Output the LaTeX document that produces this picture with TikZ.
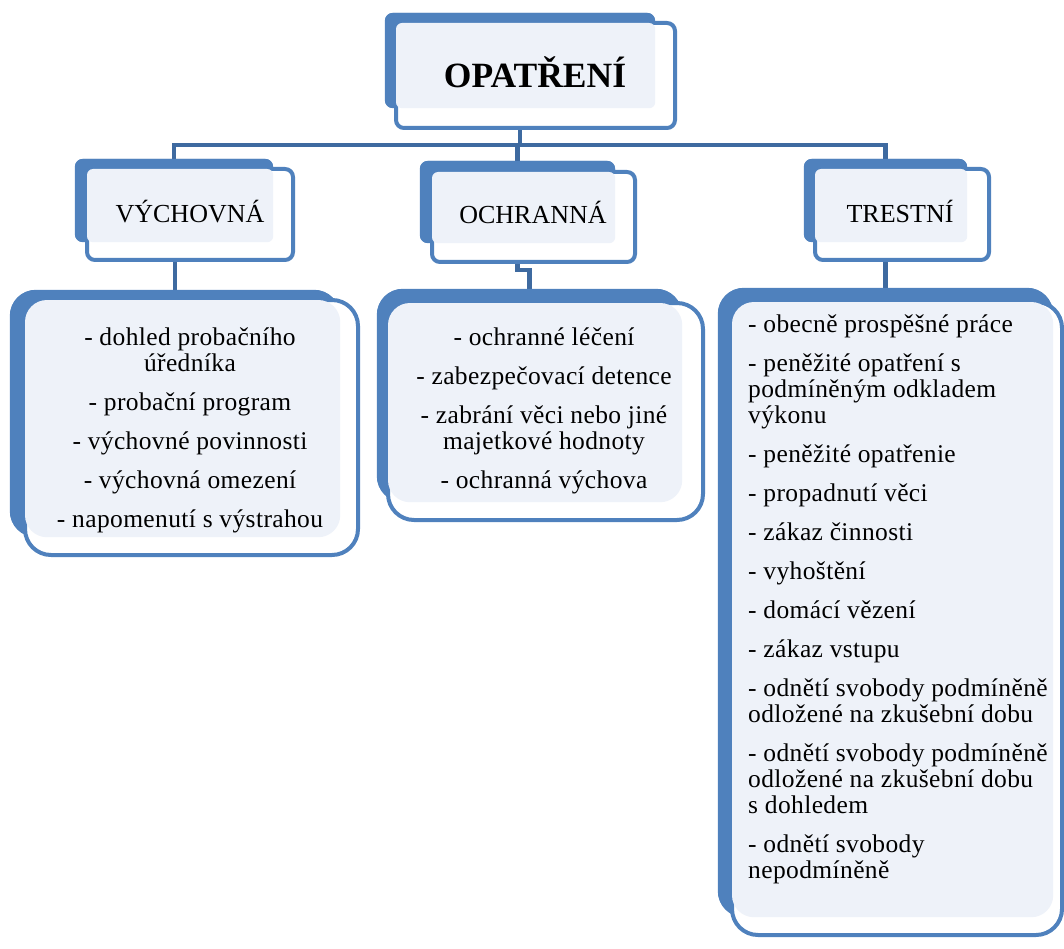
\documentclass[tikz,border=0pt]{standalone}
\usepackage{fontspec}
\setmainfont{Liberation Serif}
\newfontfamily\listfont[LetterSpace=1.5]{Liberation Serif}
\usetikzlibrary{fit}
\definecolor{obl}{RGB}{79,129,189}
\definecolor{connc}{RGB}{62,106,160}
\definecolor{lite}{RGB}{238,242,249}
\begin{document}
\begin{tikzpicture}[x=1pt,y=-1pt,
  backbox/.style={fill=obl, draw=none, rounded corners=#1, inner sep=0pt},
  backbox/.default=8pt,
  frontbox/.style={fill=white, draw=obl, line width=4pt, rounded corners=#1, inner sep=0pt},
  frontbox/.default=8pt,
  litefill/.style={fill=lite, rounded corners=#1},
  litefill/.default=6pt,
  conn/.style={draw=connc, line width=4.5pt},
  titletext/.style={font=\fontsize{35.5}{40}\selectfont\bfseries, anchor=base, inner sep=0pt},
  cattext/.style={font=\fontsize{26}{30}\selectfont, anchor=base, inner sep=0pt},
  listtext/.style={font=\listfont\fontsize{25.5}{26}\selectfont, inner sep=0pt}
]
\useasboundingbox (0,0) rectangle (1064,949);

% back boxes
\node[backbox, fit={(385,13) (655,108)}] (bt) {};
\node[backbox, fit={(75,159) (273,242)}] (b1) {};
\node[backbox, fit={(420,161) (615,243)}] (b2) {};
\node[backbox, fit={(804,159) (967,242)}] (b3) {};
\node[backbox=26pt, fit={(10,290) (340,537)}] (lb1) {};
\node[backbox=26pt, fit={(377,289) (682,502)}] (lb2) {};
\node[backbox=26pt, fit={(718,288) (1053,917)}] (lb3) {};

% connectors
\draw[conn] (bt.south) -- ++(0,37) coordinate (hj);
\draw[conn] (hj) -| (b1.north);
\draw[conn] (hj) -| (b3.north);
\draw[conn] (hj) -| (b2.north);
\draw[conn] (b1.south) -| (lb1.north);
\draw[conn] (b2.south) -- ++(0,27) -| (lb2.north);
\draw[conn] (b3.south) -| (lb3.north);

% redraw back boxes over connector ends
\fill[obl, rounded corners=8pt] (bt.north west) rectangle (bt.south east);
\fill[obl, rounded corners=8pt] (b1.north west) rectangle (b1.south east);
\fill[obl, rounded corners=8pt] (b2.north west) rectangle (b2.south east);
\fill[obl, rounded corners=8pt] (b3.north west) rectangle (b3.south east);
\fill[obl, rounded corners=26pt] (lb1.north west) rectangle (lb1.south east);
\fill[obl, rounded corners=26pt] (lb2.north west) rectangle (lb2.south east);
\fill[obl, rounded corners=26pt] (lb3.north west) rectangle (lb3.south east);

% front boxes
\node[frontbox, fit={(396,23) (675,128)}] (ft) {};
\node[frontbox, fit={(87,169) (293,260)}] (f1) {};
\node[frontbox, fit={(432,172) (635,262)}] (f2) {};
\node[frontbox, fit={(815,169) (989,260)}] (f3) {};
\node[frontbox=26pt, fit={(25,300) (358,555)}] (lf1) {};
\node[frontbox=26pt, fit={(388,303) (703,520)}] (lf2) {};
\node[frontbox=26pt, fit={(732,302) (1062,935)}] (lf3) {};

% light inner fills
\fill[litefill] ([shift={(2,2)}]ft.north west) rectangle (bt.south east);
\fill[litefill] ([shift={(2,2)}]f1.north west) rectangle (b1.south east);
\fill[litefill] ([shift={(2,2)}]f2.north west) rectangle (b2.south east);
\fill[litefill] ([shift={(2,2)}]f3.north west) rectangle (b3.south east);
\fill[litefill=22pt] ([shift={(2,2)}]lf1.north west) rectangle (lb1.south east);
\fill[litefill=22pt] ([shift={(2,2)}]lf2.north west) rectangle (lb2.south east);
\fill[litefill=22pt] ([shift={(2,2)}]lf3.north west) rectangle (lb3.south east);

% texts
\node[titletext] (tt) at (535,88) {OPATŘENÍ};
\node[cattext] (t1) at (190,223) {VÝCHOVNÁ};
\node[cattext] (t2) at (533,224) {OCHRANNÁ};
\node[cattext] (t3) at (900,223) {TRESTNÍ};

\node[listtext, anchor=base] (x1) at (190,345) {\begin{tabular}[t]{@{}c@{}}
- dohled probačního\\ úředníka\\[13pt]
- probační program\\[13pt]
- výchovné povinnosti\\[13pt]
- výchovná omezení\\[13pt]
- napomenutí s výstrahou
\end{tabular}};

\node[listtext, anchor=base] (x2) at (544,345) {\begin{tabular}[t]{@{}c@{}}
- ochranné léčení\\[13pt]
- zabezpečovací detence\\[13pt]
- zabrání věci nebo jiné\\ majetkové hodnoty\\[13pt]
- ochranná výchova
\end{tabular}};

\node[listtext, anchor=base west] (x3) at (748,332) {\begin{tabular}[t]{@{}l@{}}
- obecně prospěšné práce\\[13pt]
- peněžité opatření s\\ podmíněným odkladem\\ výkonu\\[13pt]
- peněžité opatřenie\\[13pt]
- propadnutí věci\\[13pt]
- zákaz činnosti\\[13pt]
- vyhoštění\\[13pt]
- domácí vězení\\[13pt]
- zákaz vstupu\\[13pt]
- odnětí svobody podmíněně\\ odložené na zkušební dobu\\[13pt]
- odnětí svobody podmíněně\\ odložené na zkušební dobu\\ s dohledem\\[13pt]
- odnětí svobody\\ nepodmíněně
\end{tabular}};
\end{tikzpicture}
\end{document}
